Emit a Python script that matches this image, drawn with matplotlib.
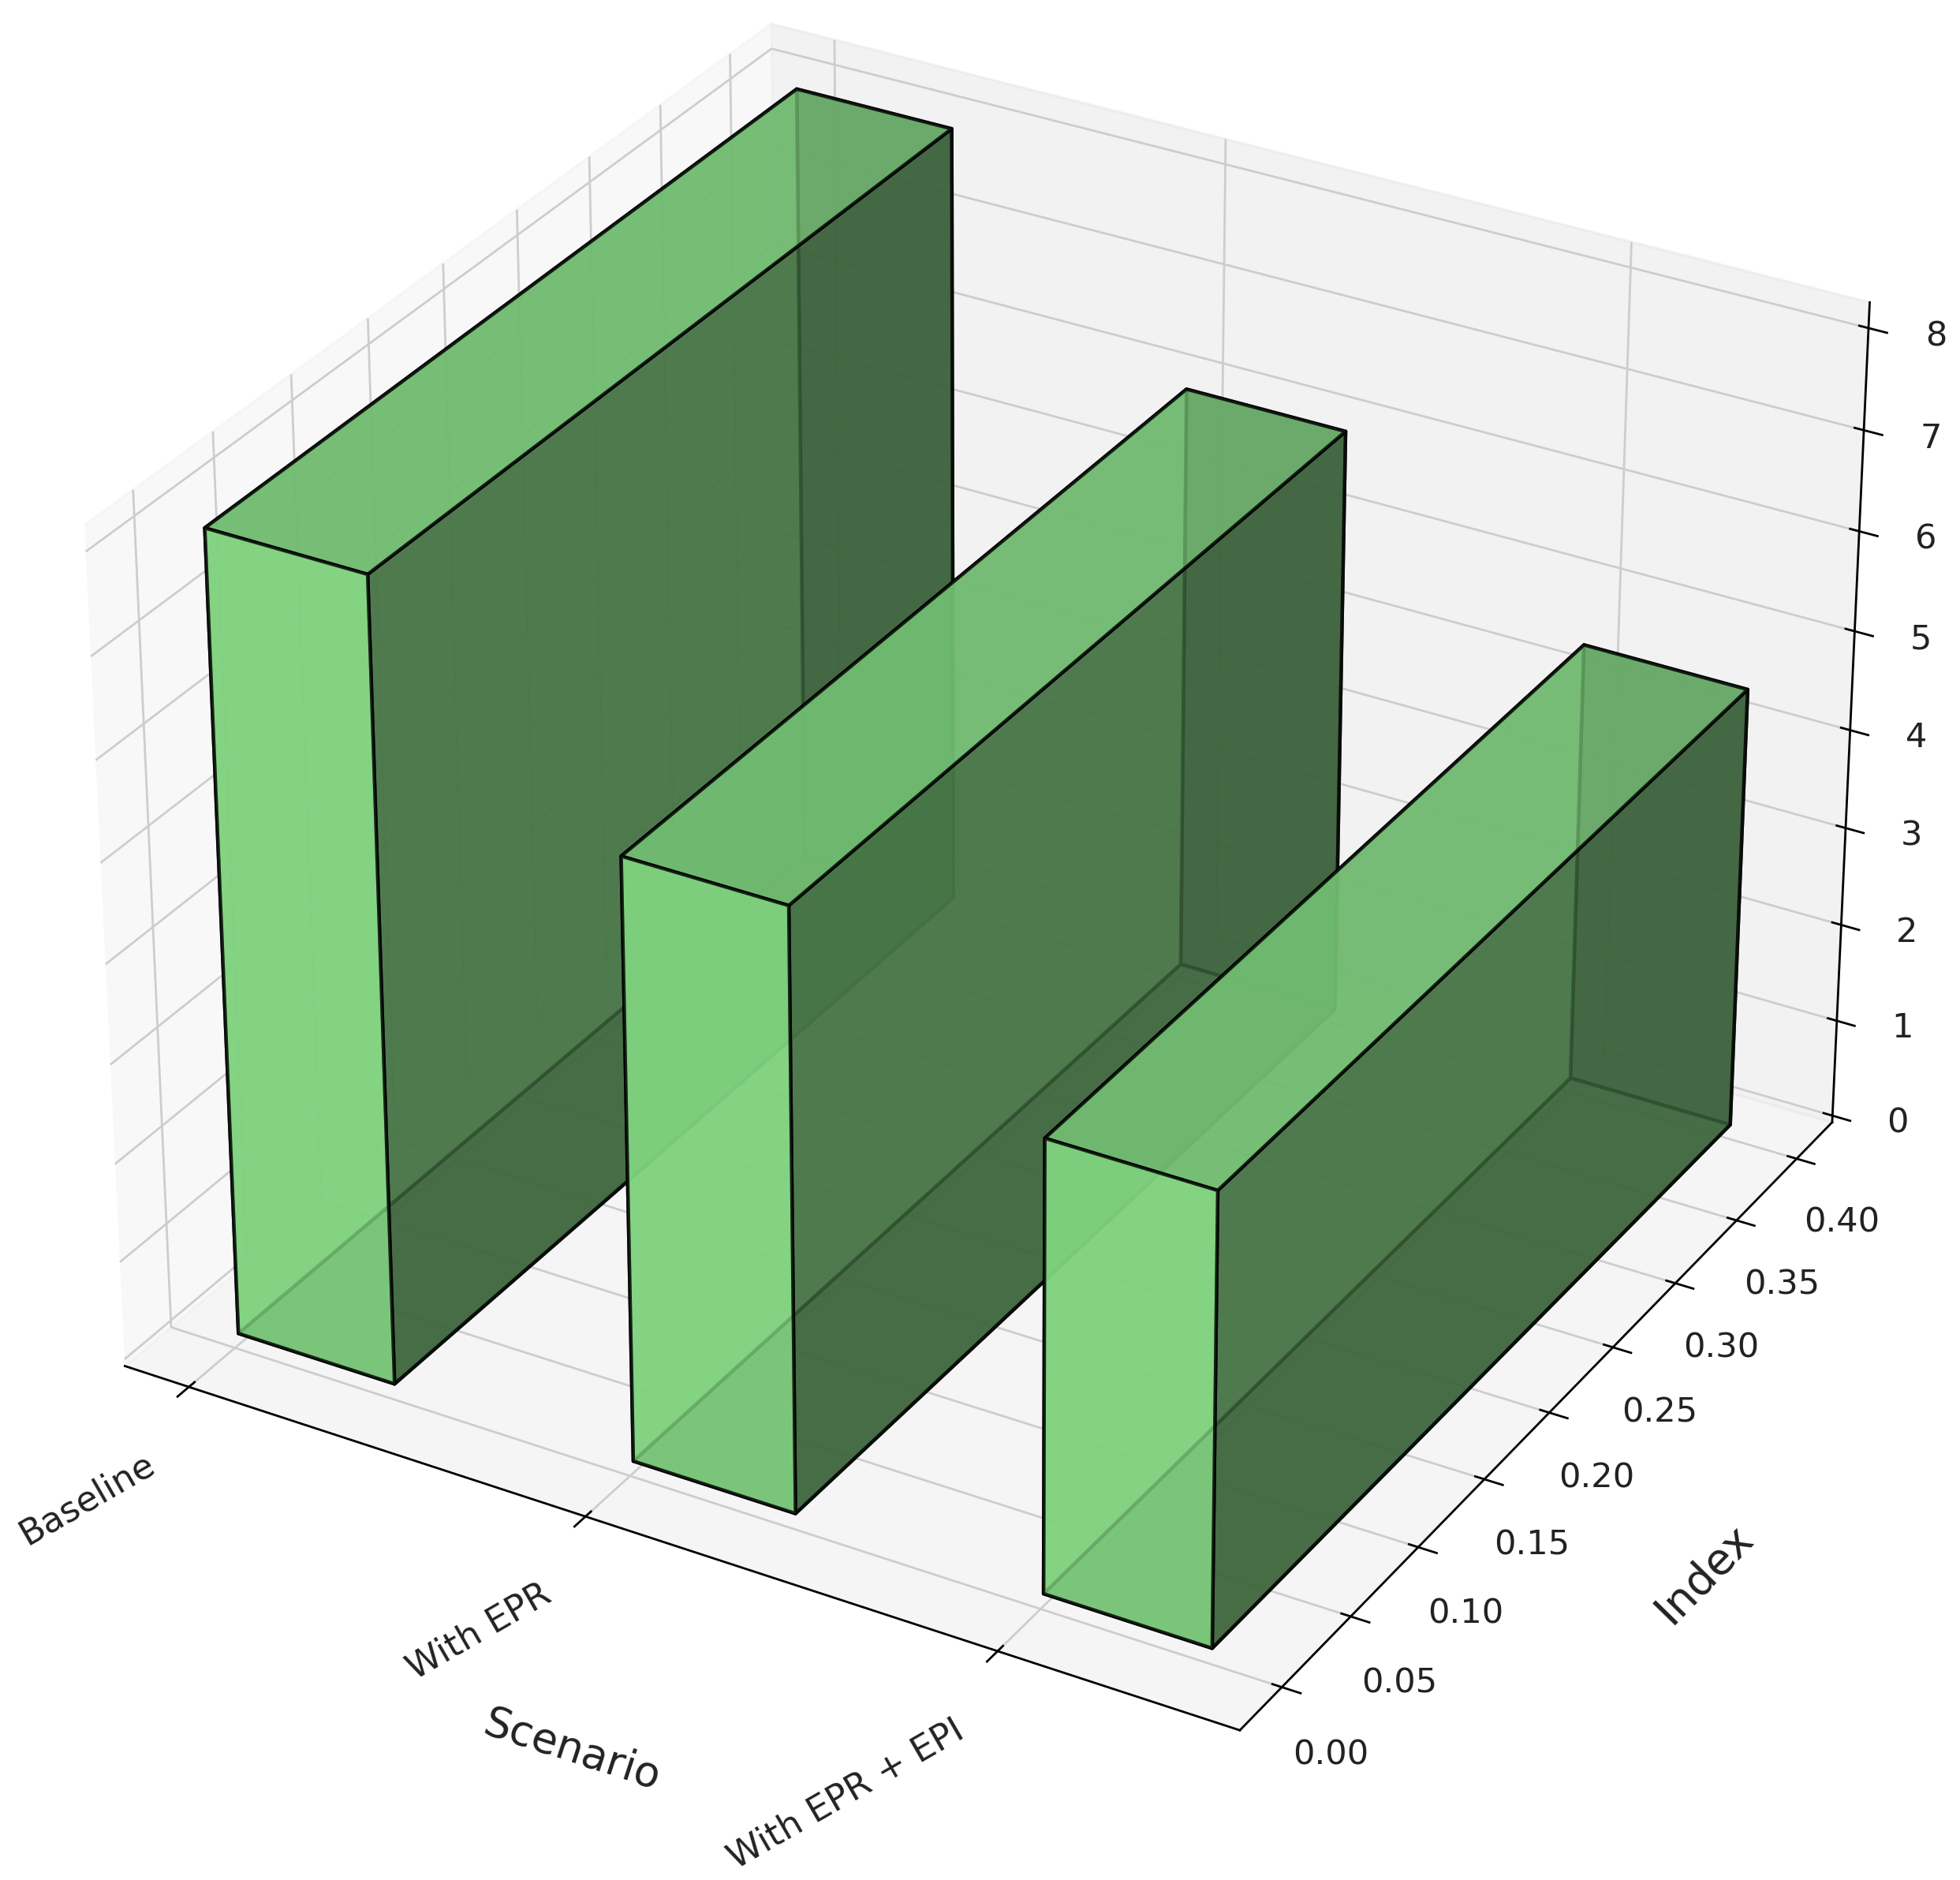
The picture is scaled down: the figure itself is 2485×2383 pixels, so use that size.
import matplotlib
matplotlib.use('Agg')
from matplotlib import pyplot as plt
import numpy as np

scenarios = ['Baseline', 'With EPR', 'With EPR + EPI']
values = [8.0, 6.0, 4.5]
index_vals = [0.4, 0.4, 0.4]

# gridlines are paler in the original
plt.rcParams['grid.color'] = '#cdcdcd'
plt.rcParams['text.color'] = '#222222'
plt.rcParams['axes.labelcolor'] = '#222222'
plt.rcParams['xtick.labelcolor'] = '#222222'
plt.rcParams['ytick.labelcolor'] = '#222222'

fig = plt.figure(figsize=(10, 9.59), dpi=248.5)
ax = fig.add_axes([-0.0344, 0.013, 1.056, 1.056], projection='3d')

xpos = np.arange(len(scenarios))
ypos = np.zeros(3)
zpos = np.zeros(3)

ax.bar3d(xpos - 0.01, ypos + 0.005, zpos, 0.4, index_vals, values, color='lightgreen', alpha=0.8,
         edgecolor='black', linewidth=1.3)

ax.set_xticks(xpos)
ax.set_xticklabels(scenarios, rotation=30, ha='right', fontsize=13)
ax.set_ylabel('Index', fontsize=16, labelpad=32)
ax.set_xlabel('Scenario', fontsize=15.5, labelpad=33)
ax.tick_params(axis='x', pad=8)
ax.tick_params(axis='y', labelsize=12.5, pad=8)
ax.tick_params(axis='z', labelsize=12.5, pad=7)
# limits fixed so the small bar offset doesn't move the axes
ax.set_xlim(-0.165, 2.57)
ax.set_zlim(-0.07, 8.25)
ax.set_ylim(-0.03, 0.43)
ax.set_yticks(np.arange(0, 0.41, 0.05))
ax.set_zticks(np.arange(0, 9))

fig.savefig('out.png')
